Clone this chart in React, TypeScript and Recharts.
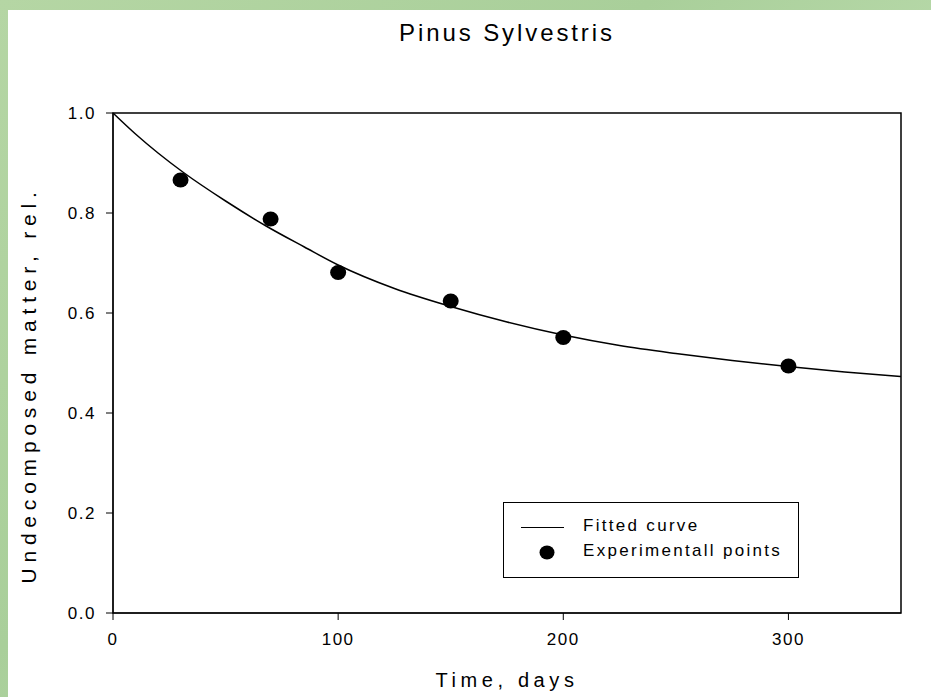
import { ComposedChart, Line, Scatter, XAxis, YAxis, ReferenceArea } from "recharts";

const TITLE = "Pinus Sylvestris";
const X_TICKS = [0, 100, 200, 300];
const Y_TICKS = [0, 0.2, 0.4, 0.6, 0.8, 1.0];

// fitted curve
const curveDays = [0, 10, 20, 31, 50, 68, 85, 100, 125, 150, 175, 200, 225, 250, 275, 300, 325, 350];
const curveValues = [1.0, 0.958, 0.92, 0.882, 0.824, 0.774, 0.732, 0.696, 0.649, 0.613, 0.582, 0.556, 0.535, 0.519, 0.505, 0.493, 0.482, 0.473];

// experimental points
const pointDays = [30, 70, 100, 150, 200, 300];
const pointValues = [0.866, 0.788, 0.681, 0.624, 0.551, 0.494];

const curve = curveDays.map((d, i) => ({ day: d, value: curveValues[i] }));
const points = pointDays.map((d, i) => ({ day: d, value: pointValues[i] }));

const FONT = '"Liberation Sans", Arial, sans-serif';

const Dot = (p: any) => <ellipse cx={p.cx} cy={p.cy} rx={8} ry={7.5} fill="#000" />;

const YLabel = ({ viewBox }: any) => {
  const x = viewBox.x - 25;
  const y = viewBox.y + viewBox.height / 2 + 22;
  return (
    <text x={x} y={y} transform={`rotate(-90 ${x} ${y})`} textAnchor="middle" dominantBaseline="central" fontSize={21} letterSpacing={5.8} fill="#000">
      Undecomposed matter, rel.
    </text>
  );
};

export default function App() {
  return (
    <div style={{ position: "absolute", left: 0, top: 0, width: 931, height: 697, background: "linear-gradient(135deg, #b5d6a4 0%, #a9cf9a 40%, #bcdcae 70%, #a3cb96 100%)", overflow: "hidden" }}>
      <div style={{ position: "absolute", left: 8, top: 10, width: 923, height: 687, background: "#fff", fontFamily: FONT }}>
        <div style={{ position: "absolute", left: 105, width: 788, top: 9, textAlign: "center", fontSize: 24, letterSpacing: 2.9, color: "#000" }}>{TITLE}</div>
        <ComposedChart width={923} height={687} margin={{ top: 103, right: 30, bottom: 54, left: 45 }} style={{ fontFamily: FONT }}>
          <XAxis
            dataKey="day"
            type="number"
            domain={[0, 350]}
            ticks={X_TICKS}
            allowDataOverflow
            height={30}
            tickSize={7}
            tickMargin={13}
            stroke="#000"
            tick={{ fill: "#000", fontSize: 17, letterSpacing: 1.5 }}
            label={{ value: "Time, days", position: "insideBottom", offset: -44, fill: "#000", fontSize: 20, letterSpacing: 4.6 }}
          />
          <YAxis
            dataKey="value"
            type="number"
            domain={[0, 1]}
            ticks={Y_TICKS}
            tickFormatter={(v: number) => v.toFixed(1)}
            width={60}
            tickSize={7}
            tickMargin={10}
            stroke="#000"
            tick={{ fill: "#000", fontSize: 17, letterSpacing: 1.5 }}
            label={<YLabel />}
          />
          <ReferenceArea x1={0} x2={350} y1={0} y2={1} fill="none" stroke="#000" strokeWidth={1.5} />
          <Line data={curve} dataKey="value" type="monotone" stroke="#000" strokeWidth={1.5} dot={false} isAnimationActive={false} />
          <Scatter data={points} dataKey="value" fill="#000" shape={Dot} isAnimationActive={false} />
        </ComposedChart>
        <div style={{ position: "absolute", left: 495, top: 492, width: 294, height: 74, border: "1px solid #000", fontSize: 17, letterSpacing: 2.3, color: "#000" }}>
          <svg width={60} height={74} style={{ position: "absolute", left: 0, top: 0 }}>
            <line x1={17} x2={68} y1={24.5} y2={24.5} stroke="#000" strokeWidth={1.2} />
            <ellipse cx={43} cy={49.5} rx={7.5} ry={7} fill="#000" />
          </svg>
          <div style={{ position: "absolute", left: 79, top: 13, lineHeight: "20px" }}>Fitted curve</div>
          <div style={{ position: "absolute", left: 79, top: 38, lineHeight: "20px" }}>Experimentall points</div>
        </div>
      </div>
    </div>
  );
}
